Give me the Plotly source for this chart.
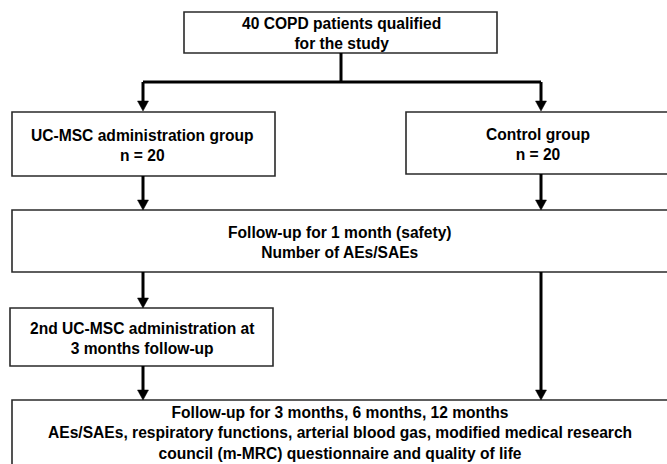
import plotly.graph_objects as go

# ---- content (text of each step) ----
step_labels = [
    "40 COPD patients qualified<br>for the study",
    "UC-MSC administration group<br>n = 20",
    "Control group<br>n = 20",
    "Follow-up for 1 month (safety)<br>Number of AEs/SAEs",
    "2nd UC-MSC administration at<br>3 months follow-up",
    "Follow-up for 3 months, 6 months, 12 months<br>"
    "AEs/SAEs, respiratory functions, arterial blood gas, modified medical research<br>"
    "council (m-MRC) questionnaire and quality of life",
]

# ---- layout geometry (pixels, y downward) ----
box_x0 = [184, 12, 406, 12, 10, 12]
box_x1 = [497, 275, 672, 672, 273, 672]
box_y0 = [12, 112, 112, 210, 308, 400]
box_y1 = [53, 176, 174, 272, 366, 472]
text_cx = [341, 142, 538, 340, 142, 340]
text_cy = [33, 145, 144, 242, 338, 433]

W, H = 667, 464
XL, XR = 143, 541

# connector polylines (last point gets an arrowhead if flagged)
connectors = [
    ([341, 341], [53, 82], False),
    ([XL, XR], [82, 82], False),
    ([XL, XL], [82, 111], True),
    ([XR, XR], [82, 111], True),
    ([XL, XL], [176, 210], True),
    ([XR, XR], [174, 210], True),
    ([XL, XL], [272, 308], True),
    ([XR, XR], [272, 400], True),
    ([XL, XL], [366, 400], True),
]

fig = go.Figure()
shapes = []
for x0, x1, y0, y1 in zip(box_x0, box_x1, box_y0, box_y1):
    shapes.append(dict(type="rect", xref="x", yref="y", x0=x0, x1=x1, y0=y0, y1=y1,
                       line=dict(color="#2a2a2a", width=1.6), fillcolor="white", layer="below"))

AH, AW = 10, 5.5
for xs, ys, arrow in connectors:
    yend = ys[1] - (AH - 1 if arrow else 0)
    shapes.append(dict(type="line", xref="x", yref="y", x0=xs[0], x1=xs[1], y0=ys[0], y1=yend,
                       line=dict(color="black", width=3)))
    if arrow:
        xt, yt = xs[1], ys[1]
        shapes.append(dict(type="path", xref="x", yref="y",
                           path=f"M {xt-AW},{yt-AH} L {xt+AW},{yt-AH} L {xt},{yt} Z",
                           fillcolor="black", line=dict(color="black", width=0.5)))

annotations = []
for lab, cx, cy in zip(step_labels, text_cx, text_cy):
    annotations.append(dict(x=cx, y=cy, xref="x", yref="y", text=f"<b>{lab}</b>",
                            showarrow=False, xanchor="center", yanchor="middle", align="center",
                            font=dict(family="Liberation Sans, Arial, sans-serif", size=15.6, color="black")))

fig.update_layout(
    width=W, height=H,
    margin=dict(l=0, r=0, t=0, b=0),
    paper_bgcolor="white", plot_bgcolor="white",
    xaxis=dict(range=[0, W], visible=False, fixedrange=True),
    yaxis=dict(range=[H, 0], visible=False, fixedrange=True),
    shapes=shapes, annotations=annotations, showlegend=False,
)
fig.write_html("out.html", config={"displayModeBar": False},
               post_script="document.body.style.margin='0';document.body.style.overflow='hidden';")
